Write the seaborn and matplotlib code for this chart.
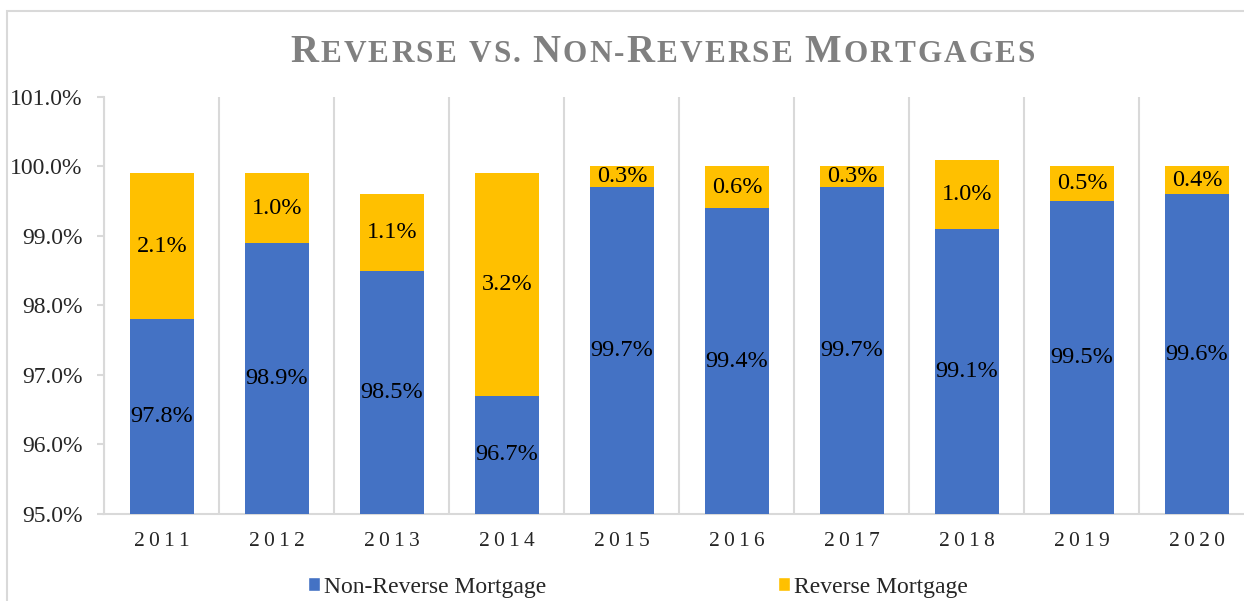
import numpy as np
import pandas as pd
import matplotlib
matplotlib.use("Agg")
import matplotlib.pyplot as plt
from matplotlib.patches import Rectangle, Patch
from matplotlib.ticker import FixedLocator
from matplotlib.transforms import IdentityTransform
import seaborn as sns

years = ["2011", "2012", "2013", "2014", "2015", "2016", "2017", "2018", "2019", "2020"]
non_reverse = [97.8, 98.9, 98.5, 96.7, 99.7, 99.4, 99.7, 99.1, 99.5, 99.6]
reverse = [2.1, 1.0, 1.1, 3.2, 0.3, 0.6, 0.3, 1.0, 0.5, 0.4]
y_ticks = [95, 96, 97, 98, 99, 100, 101]

BLUE = "#4472C4"
GOLD = "#FFC000"
GRID = "#D9D9D9"

df = pd.DataFrame({"year": years, "non": non_reverse, "rev": reverse})
df["total"] = df["non"] + df["rev"]

sns.set_theme(style="white")
plt.rcParams["font.family"] = ["Liberation Serif", "DejaVu Serif"]

W, H = 1244, 601
fig = plt.figure(figsize=(W / 100, H / 100), dpi=100)
ax = fig.add_axes([104.5 / W, 87 / H, 1150 / W, 417 / H])

# stacked bars: total drawn first in gold, non-reverse drawn over it in blue
sns.barplot(data=df, x="year", y="total", color=GOLD, width=0.565,
            saturation=1, linewidth=0, ax=ax, zorder=3)
sns.barplot(data=df, x="year", y="non", color=BLUE, width=0.565,
            saturation=1, linewidth=0, ax=ax, zorder=3)

ax.set_ylim(95, 101)
ax.set_xlim(-0.5, len(years) - 0.5)
ax.set_xlabel("")
ax.set_ylabel("")

ax.set_yticks(y_ticks)
ax.set_yticklabels([f"{v:.1f}%" for v in y_ticks], fontsize=17)
ax.set_xticks(range(len(years)))
ax.set_xticklabels(["\u2009".join(y) for y in years], fontsize=15.5)

ax.xaxis.set_minor_locator(FixedLocator(np.arange(-0.5, len(years), 1)))
ax.grid(False)
ax.grid(which="minor", axis="x", color=GRID, lw=1.5, zorder=0)
ax.tick_params(axis="y", which="major", length=5, width=1.5, color=GRID,
               direction="out", pad=11, left=True)
ax.tick_params(axis="x", which="both", length=0, pad=13)
for s in ["top", "right"]:
    ax.spines[s].set_visible(False)
for s in ["left", "bottom"]:
    ax.spines[s].set_color(GRID)
    ax.spines[s].set_linewidth(1.5)

# data labels
for i, (n, r) in enumerate(zip(non_reverse, reverse)):
    ax.text(i, (95 + n) / 2, f"{n:.1f}%", ha="center", va="center",
            fontsize=17.5, color="black", zorder=5)
    ax.text(i, n + r / 2, f"{r:.1f}%", ha="center", va="center",
            fontsize=17.5, color="black", zorder=5)

# small-caps title, placed char by char
big, small = 28, 22.5
parts = [("R", big), ("EVERSE", small), (" ", small), ("VS.", small), (" ", small),
         ("N", big), ("ON-", small), ("R", big), ("EVERSE", small), (" ", small),
         ("M", big), ("ORTGAGES", small)]
renderer = fig.canvas.get_renderer()
chars = []
for s, size in parts:
    for ch in s:
        if ch == " ":
            chars.append((None, size * 100 / 72 * 0.25))
        else:
            t = fig.text(0, H - 62, ch, fontsize=size, fontweight="bold",
                         color="#808080", ha="left", va="baseline",
                         transform=IdentityTransform())
            chars.append((t, t.get_window_extent(renderer).width))
natural = sum(w for _, w in chars)
target_left, target_right = 290, 1035
gap = (target_right - target_left - natural) / (len(chars) - 1)
x = target_left
for t, w in chars:
    if t is not None:
        t.set_x(x)
    x += w + gap

# legend
handles = [Patch(facecolor=BLUE, label="Non-Reverse Mortgage"),
           Patch(facecolor=GOLD, label="Reverse Mortgage")]
fig.legend(handles=handles, loc="center", bbox_to_anchor=(638 / W, 1 - 587 / H),
           ncol=2, frameon=False, fontsize=17, handlelength=0.5,
           handleheight=0.55, handletextpad=0.2, columnspacing=9.8)

# chart border
fig.patches.append(Rectangle((7 / W, -0.1), 1.2, 1.1 - 10.5 / H,
                             transform=fig.transFigure, fill=False,
                             edgecolor=GRID, lw=1.5))

fig.savefig("out.png", dpi=100)
